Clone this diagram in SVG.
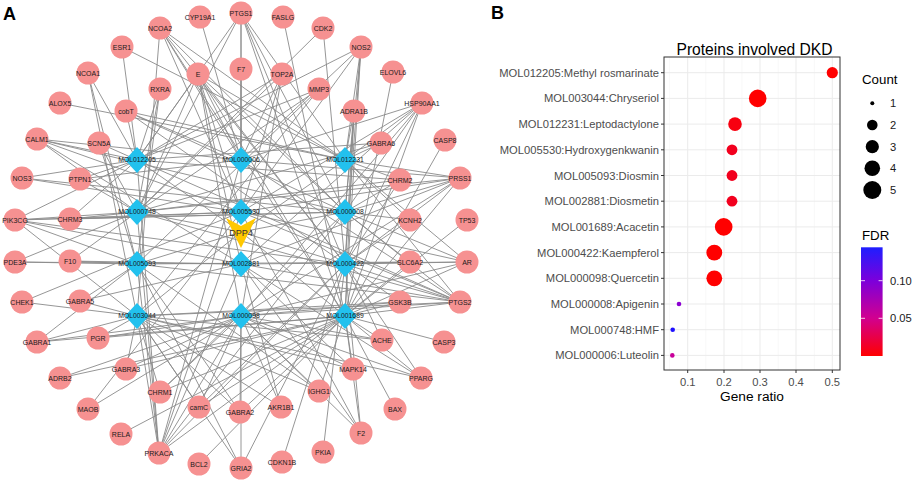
<svg xmlns="http://www.w3.org/2000/svg" width="913" height="481" viewBox="0 0 913 481">
<defs>
<style>
.e{fill:none;stroke:#8a8a8a;stroke-width:0.9}
.t{fill:#F69191}
.tl{font-family:"Liberation Sans",Arial,sans-serif;font-size:7px;fill:#1a1a1a;text-anchor:middle}
.d{fill:#22C1EE}
.dl{font-family:"Liberation Sans",Arial,sans-serif;font-size:6.8px;fill:#1a1a1a;text-anchor:middle}
.pl{font-family:"Liberation Sans",Arial,sans-serif;font-size:18px;font-weight:bold;fill:#000}
.yl{font-family:"Liberation Sans",Arial,sans-serif;font-size:11.2px;fill:#4D4D4D;text-anchor:end}
.xl{font-family:"Liberation Sans",Arial,sans-serif;font-size:11.2px;fill:#4D4D4D;text-anchor:middle}
.lg{font-family:"Liberation Sans",Arial,sans-serif;font-size:11.2px;fill:#1a1a1a}
.lt{font-family:"Liberation Sans",Arial,sans-serif;font-size:13.3px;fill:#000}
.gmaj{stroke:#EBEBEB;stroke-width:1}
.gmin{stroke:#F3F3F3;stroke-width:0.6}
.tk{stroke:#333;stroke-width:1}
</style>
<linearGradient id="fdr" x1="0" y1="0" x2="0" y2="1">
<stop offset="0" stop-color="#1E1EFF"/>
<stop offset="0.3" stop-color="#7A00DC"/>
<stop offset="0.65" stop-color="#D10090"/>
<stop offset="1" stop-color="#FF0000"/>
</linearGradient>
<polygon id="dia" points="0,-13 12,0 0,13 -12,0"/>
</defs>
<rect width="913" height="481" fill="#fff"/>
<text class="pl" x="3" y="20">A</text>
<text class="pl" x="491" y="19">B</text>

<g id="connectors">
<path class="e" d="M200 17L241 160"/>
<path class="e" d="M241 13L137 160M241 13L241 160M241 13L345 160M241 13L137 212M241 13L241 212M241 13L345 212M241 13L345 264M241 13L345 316"/>
<path class="e" d="M283 17L345 316"/>
<path class="e" d="M323 28L137 212M323 28L345 264"/>
<path class="e" d="M361 47L137 160M361 47L241 160M361 47L345 160M361 47L345 212M361 47L345 264M361 47L345 316M361 47L241 212"/>
<path class="e" d="M393 72L345 316"/>
<path class="e" d="M422 103L241 160M422 103L345 160M422 103L241 212M422 103L345 212M422 103L241 264M422 103L345 264M422 103L241 316M422 103L345 316"/>
<path class="e" d="M445 140L345 316"/>
<path class="e" d="M460 178L241 160M460 178L345 160M460 178L137 212M460 178L241 212M460 178L345 212M460 178L241 264M460 178L345 264M460 178L241 316M460 178L345 316"/>
<path class="e" d="M467 220L345 316"/>
<path class="e" d="M467 262L345 160M467 262L241 212M467 262L345 212M467 262L241 264M467 262L345 264M467 262L241 316M467 262L345 316"/>
<path class="e" d="M460 302L137 160M460 302L241 160M460 302L345 160M460 302L137 212M460 302L241 212M460 302L345 212M460 302L137 264M460 302L241 264M460 302L345 264M460 302L137 316M460 302L241 316M460 302L345 316"/>
<path class="e" d="M444 342L345 316"/>
<path class="e" d="M421 378L241 264M421 378L345 264M421 378L137 316M421 378L241 316M421 378L345 316"/>
<path class="e" d="M395 409L345 316"/>
<path class="e" d="M361 433L241 212M361 433L241 264M361 433L345 264M361 433L241 316M361 433L345 316"/>
<path class="e" d="M323 452L345 264"/>
<path class="e" d="M282 462L345 264"/>
<path class="e" d="M241 468L137 264M241 468L345 264M241 468L137 316M241 468L241 316"/>
<path class="e" d="M199 464L345 316"/>
<path class="e" d="M159 453L137 160M159 453L241 160M159 453L137 212M159 453L241 212M159 453L345 212M159 453L137 264M159 453L241 264M159 453L345 264M159 453L137 316M159 453L241 316M159 453L345 316"/>
<path class="e" d="M121 434L345 316"/>
<path class="e" d="M88 409L241 212M88 409L241 316"/>
<path class="e" d="M60 378L241 316M60 378L345 316"/>
<path class="e" d="M37 342L137 264M37 342L137 316M37 342L241 316M37 342L345 316"/>
<path class="e" d="M22 302L137 316M22 302L241 212"/>
<path class="e" d="M15 262L137 212M15 262L137 264M15 262L241 264"/>
<path class="e" d="M15 220L137 160M15 220L137 212M15 220L241 212M15 220L345 212M15 220L137 264M15 220L241 264M15 220L345 264M15 220L137 316"/>
<path class="e" d="M22 178L137 160M22 178L241 212M22 178L345 212"/>
<path class="e" d="M37 139L137 160M37 139L241 160M37 139L137 212M37 139L241 212M37 139L345 212M37 139L241 264"/>
<path class="e" d="M60 103L345 160"/>
<path class="e" d="M88 73L137 160M88 73L137 264M88 73L137 316"/>
<path class="e" d="M122 47L137 160M122 47L345 160"/>
<path class="e" d="M160 28L241 160M160 28L345 160M160 28L241 212M160 28L345 212M160 28L345 264M160 28L345 316M160 28L137 316"/>
<path class="e" d="M198 74L137 160M198 74L241 160M198 74L345 160M198 74L137 212M198 74L241 212M198 74L345 212M198 74L241 264M198 74L345 264M198 74L241 316M198 74L345 316"/>
<path class="e" d="M241 69L241 160"/>
<path class="e" d="M282 74L137 160M282 74L241 160M282 74L137 212M282 74L241 212M282 74L241 316"/>
<path class="e" d="M319 89L137 160M319 89L137 212M319 89L137 264M319 89L137 316"/>
<path class="e" d="M160 89L137 160M160 89L137 212M160 89L137 264"/>
<path class="e" d="M126 111L137 160M126 111L241 160M126 111L345 160M126 111L345 212M126 111L345 264"/>
<path class="e" d="M354 111L345 160M354 111L345 212M354 111L345 264M354 111L345 316"/>
<path class="e" d="M381 143L345 160M381 143L137 160M381 143L137 212"/>
<path class="e" d="M99 143L137 160M99 143L137 212M99 143L137 264"/>
<path class="e" d="M400 180L137 160M400 180L345 160M400 180L137 212M400 180L345 212M400 180L345 264"/>
<path class="e" d="M80 179L137 160M80 179L241 160M80 179L137 212"/>
<path class="e" d="M410 220L345 160M410 220L345 212M410 220L345 264"/>
<path class="e" d="M70 219L137 160M70 219L137 212M70 219L241 212M70 219L345 212"/>
<path class="e" d="M410 262L345 212M410 262L137 264M410 262L345 264M410 262L345 316"/>
<path class="e" d="M70 261L137 212M70 261L137 264M70 261L241 264"/>
<path class="e" d="M400 302L345 264M400 302L137 316M400 302L241 316M400 302L345 316"/>
<path class="e" d="M80 301L137 264M80 301L241 264M80 301L137 316"/>
<path class="e" d="M382 340L345 264M382 340L137 316M382 340L241 316M382 340L345 316"/>
<path class="e" d="M98 338L137 316M98 338L241 316M98 338L345 316"/>
<path class="e" d="M353 369L241 264M353 369L137 316M353 369L241 316M353 369L345 316"/>
<path class="e" d="M126 369L137 316M126 369L241 316M126 369L345 316"/>
<path class="e" d="M319 391L137 264M319 391L137 316M319 391L241 316M319 391L345 316"/>
<path class="e" d="M160 392L345 212M160 392L137 316M160 392L241 316M160 392L345 316"/>
<path class="e" d="M281 407L241 264M281 407L137 316M281 407L241 316"/>
<path class="e" d="M199 407L345 264M199 407L137 316M199 407L241 316M199 407L345 316"/>
<path class="e" d="M240 412L137 264M240 412L137 316M240 412L241 316M240 412L345 316"/>
<path class="e" d="M241 232L137 160M241 232L345 160M241 232L137 212M241 232L345 212M241 232L137 264M241 232L345 264M241 232L137 316M241 232L345 316"/>
</g>

<g id="CYP19A1" transform="translate(200,17)"><circle class="t" r="11.5"/><text class="tl" y="2.5">CYP19A1</text></g>
<g id="PTGS1" transform="translate(241,13)"><circle class="t" r="11.5"/><text class="tl" y="2.5">PTGS1</text></g>
<g id="FASLG" transform="translate(283,17)"><circle class="t" r="11.5"/><text class="tl" y="2.5">FASLG</text></g>
<g id="CDK2" transform="translate(323,28)"><circle class="t" r="11.5"/><text class="tl" y="2.5">CDK2</text></g>
<g id="NOS2" transform="translate(361,47)"><circle class="t" r="11.5"/><text class="tl" y="2.5">NOS2</text></g>
<g id="ELOVL6" transform="translate(393,72)"><circle class="t" r="11.5"/><text class="tl" y="2.5">ELOVL6</text></g>
<g id="HSP90AA1" transform="translate(422,103)"><circle class="t" r="11.5"/><text class="tl" y="2.5">HSP90AA1</text></g>
<g id="CASP8" transform="translate(445,140)"><circle class="t" r="11.5"/><text class="tl" y="2.5">CASP8</text></g>
<g id="PRSS1" transform="translate(460,178)"><circle class="t" r="11.5"/><text class="tl" y="2.5">PRSS1</text></g>
<g id="TP53" transform="translate(467,220)"><circle class="t" r="11.5"/><text class="tl" y="2.5">TP53</text></g>
<g id="AR" transform="translate(467,262)"><circle class="t" r="11.5"/><text class="tl" y="2.5">AR</text></g>
<g id="PTGS2" transform="translate(460,302)"><circle class="t" r="11.5"/><text class="tl" y="2.5">PTGS2</text></g>
<g id="CASP3" transform="translate(444,342)"><circle class="t" r="11.5"/><text class="tl" y="2.5">CASP3</text></g>
<g id="PPARG" transform="translate(421,378)"><circle class="t" r="11.5"/><text class="tl" y="2.5">PPARG</text></g>
<g id="BAX" transform="translate(395,409)"><circle class="t" r="11.5"/><text class="tl" y="2.5">BAX</text></g>
<g id="F2" transform="translate(361,433)"><circle class="t" r="11.5"/><text class="tl" y="2.5">F2</text></g>
<g id="PKIA" transform="translate(323,452)"><circle class="t" r="11.5"/><text class="tl" y="2.5">PKIA</text></g>
<g id="CDKN1B" transform="translate(282,462)"><circle class="t" r="11.5"/><text class="tl" y="2.5">CDKN1B</text></g>
<g id="GRIA2" transform="translate(241,468)"><circle class="t" r="11.5"/><text class="tl" y="2.5">GRIA2</text></g>
<g id="BCL2" transform="translate(199,464)"><circle class="t" r="11.5"/><text class="tl" y="2.5">BCL2</text></g>
<g id="PRKACA" transform="translate(159,453)"><circle class="t" r="11.5"/><text class="tl" y="2.5">PRKACA</text></g>
<g id="RELA" transform="translate(121,434)"><circle class="t" r="11.5"/><text class="tl" y="2.5">RELA</text></g>
<g id="MAOB" transform="translate(88,409)"><circle class="t" r="11.5"/><text class="tl" y="2.5">MAOB</text></g>
<g id="ADRB2" transform="translate(60,378)"><circle class="t" r="11.5"/><text class="tl" y="2.5">ADRB2</text></g>
<g id="GABRA1" transform="translate(37,342)"><circle class="t" r="11.5"/><text class="tl" y="2.5">GABRA1</text></g>
<g id="CHEK1" transform="translate(22,302)"><circle class="t" r="11.5"/><text class="tl" y="2.5">CHEK1</text></g>
<g id="PDE3A" transform="translate(15,262)"><circle class="t" r="11.5"/><text class="tl" y="2.5">PDE3A</text></g>
<g id="PIK3CG" transform="translate(15,220)"><circle class="t" r="11.5"/><text class="tl" y="2.5">PIK3CG</text></g>
<g id="NOS3" transform="translate(22,178)"><circle class="t" r="11.5"/><text class="tl" y="2.5">NOS3</text></g>
<g id="CALM1" transform="translate(37,139)"><circle class="t" r="11.5"/><text class="tl" y="2.5">CALM1</text></g>
<g id="ALOX5" transform="translate(60,103)"><circle class="t" r="11.5"/><text class="tl" y="2.5">ALOX5</text></g>
<g id="NCOA1" transform="translate(88,73)"><circle class="t" r="11.5"/><text class="tl" y="2.5">NCOA1</text></g>
<g id="ESR1" transform="translate(122,47)"><circle class="t" r="11.5"/><text class="tl" y="2.5">ESR1</text></g>
<g id="NCOA2" transform="translate(160,28)"><circle class="t" r="11.5"/><text class="tl" y="2.5">NCOA2</text></g>

<g id="E" transform="translate(198,74)"><circle class="t" r="11.5"/><text class="tl" y="2.5">E</text></g>
<g id="F7" transform="translate(241,69)"><circle class="t" r="11.5"/><text class="tl" y="2.5">F7</text></g>
<g id="TOP2A" transform="translate(282,74)"><circle class="t" r="11.5"/><text class="tl" y="2.5">TOP2A</text></g>
<g id="MMP3" transform="translate(319,89)"><circle class="t" r="11.5"/><text class="tl" y="2.5">MMP3</text></g>
<g id="RXRA" transform="translate(160,89)"><circle class="t" r="11.5"/><text class="tl" y="2.5">RXRA</text></g>
<g id="cobT" transform="translate(126,111)"><circle class="t" r="11.5"/><text class="tl" y="2.5">cobT</text></g>
<g id="ADRA1B" transform="translate(354,111)"><circle class="t" r="11.5"/><text class="tl" y="2.5">ADRA1B</text></g>
<g id="GABRA6" transform="translate(381,143)"><circle class="t" r="11.5"/><text class="tl" y="2.5">GABRA6</text></g>
<g id="SCN5A" transform="translate(99,143)"><circle class="t" r="11.5"/><text class="tl" y="2.5">SCN5A</text></g>
<g id="CHRM2" transform="translate(400,180)"><circle class="t" r="11.5"/><text class="tl" y="2.5">CHRM2</text></g>
<g id="PTPN1" transform="translate(80,179)"><circle class="t" r="11.5"/><text class="tl" y="2.5">PTPN1</text></g>
<g id="KCNH2" transform="translate(410,220)"><circle class="t" r="11.5"/><text class="tl" y="2.5">KCNH2</text></g>
<g id="CHRM3" transform="translate(70,219)"><circle class="t" r="11.5"/><text class="tl" y="2.5">CHRM3</text></g>
<g id="SLC6A2" transform="translate(410,262)"><circle class="t" r="11.5"/><text class="tl" y="2.5">SLC6A2</text></g>
<g id="F10" transform="translate(70,261)"><circle class="t" r="11.5"/><text class="tl" y="2.5">F10</text></g>
<g id="GSK3B" transform="translate(400,302)"><circle class="t" r="11.5"/><text class="tl" y="2.5">GSK3B</text></g>
<g id="GABRA5" transform="translate(80,301)"><circle class="t" r="11.5"/><text class="tl" y="2.5">GABRA5</text></g>
<g id="ACHE" transform="translate(382,340)"><circle class="t" r="11.5"/><text class="tl" y="2.5">ACHE</text></g>
<g id="PGR" transform="translate(98,338)"><circle class="t" r="11.5"/><text class="tl" y="2.5">PGR</text></g>
<g id="MAPK14" transform="translate(353,369)"><circle class="t" r="11.5"/><text class="tl" y="2.5">MAPK14</text></g>
<g id="GABRA3" transform="translate(126,369)"><circle class="t" r="11.5"/><text class="tl" y="2.5">GABRA3</text></g>
<g id="IGHG1" transform="translate(319,391)"><circle class="t" r="11.5"/><text class="tl" y="2.5">IGHG1</text></g>
<g id="CHRM1" transform="translate(160,392)"><circle class="t" r="11.5"/><text class="tl" y="2.5">CHRM1</text></g>
<g id="AKR1B1" transform="translate(281,407)"><circle class="t" r="11.5"/><text class="tl" y="2.5">AKR1B1</text></g>
<g id="camC" transform="translate(199,407)"><circle class="t" r="11.5"/><text class="tl" y="2.5">camC</text></g>
<g id="GABRA2" transform="translate(240,412)"><circle class="t" r="11.5"/><text class="tl" y="2.5">GABRA2</text></g>

<g id="MOL012205" transform="translate(137,160)"><use href="#dia" class="d"/><text class="dl" y="2.4">MOL012205</text></g>
<g id="MOL000006" transform="translate(241,160)"><use href="#dia" class="d"/><text class="dl" y="2.4">MOL000006</text></g>
<g id="MOL012231" transform="translate(345,160)"><use href="#dia" class="d"/><text class="dl" y="2.4">MOL012231</text></g>
<g id="MOL000748" transform="translate(137,212)"><use href="#dia" class="d"/><text class="dl" y="2.4">MOL000748</text></g>
<g id="MOL005530" transform="translate(241,212)"><use href="#dia" class="d"/><text class="dl" y="2.4">MOL005530</text></g>
<g id="MOL000008" transform="translate(345,212)"><use href="#dia" class="d"/><text class="dl" y="2.4">MOL000008</text></g>
<g id="MOL005093" transform="translate(137,264)"><use href="#dia" class="d"/><text class="dl" y="2.4">MOL005093</text></g>
<g id="MOL002881" transform="translate(241,264)"><use href="#dia" class="d"/><text class="dl" y="2.4">MOL002881</text></g>
<g id="MOL000422" transform="translate(345,264)"><use href="#dia" class="d"/><text class="dl" y="2.4">MOL000422</text></g>
<g id="MOL003044" transform="translate(137,316)"><use href="#dia" class="d"/><text class="dl" y="2.4">MOL003044</text></g>
<g id="MOL000098" transform="translate(241,316)"><use href="#dia" class="d"/><text class="dl" y="2.4">MOL000098</text></g>
<g id="MOL001689" transform="translate(345,316)"><use href="#dia" class="d"/><text class="dl" y="2.4">MOL001689</text></g>
<g id="DPP4" transform="translate(241,233)"><polygon points="-15,-15 0,-7 15,-15 0,15" fill="#FFC800"/><text x="0" y="3.2" font-family="Liberation Sans, Arial, sans-serif" font-size="9" fill="#333" text-anchor="middle">DPP4</text></g>

<g id="dotplot">
<text x="754.5" y="55" font-family="Liberation Sans, Arial, sans-serif" font-size="15.6" text-anchor="middle" fill="#000">Proteins involved DKD</text>
<rect x="664" y="57" width="176" height="313" fill="#fff"/>
<g class="gmin">
<line x1="669.6" y1="57" x2="669.6" y2="370"/><line x1="705.8" y1="57" x2="705.8" y2="370"/><line x1="742" y1="57" x2="742" y2="370"/><line x1="778.2" y1="57" x2="778.2" y2="370"/><line x1="814.4" y1="57" x2="814.4" y2="370"/>
</g>
<g class="gmaj">
<line x1="687.7" y1="57" x2="687.7" y2="370"/><line x1="724" y1="57" x2="724" y2="370"/><line x1="760" y1="57" x2="760" y2="370"/><line x1="796" y1="57" x2="796" y2="370"/><line x1="832.3" y1="57" x2="832.3" y2="370"/>
<line x1="664" y1="72.7" x2="840" y2="72.7"/><line x1="664" y1="98.4" x2="840" y2="98.4"/><line x1="664" y1="124.1" x2="840" y2="124.1"/><line x1="664" y1="149.8" x2="840" y2="149.8"/><line x1="664" y1="175.5" x2="840" y2="175.5"/><line x1="664" y1="201.2" x2="840" y2="201.2"/><line x1="664" y1="226.9" x2="840" y2="226.9"/><line x1="664" y1="252.6" x2="840" y2="252.6"/><line x1="664" y1="278.3" x2="840" y2="278.3"/><line x1="664" y1="304" x2="840" y2="304"/><line x1="664" y1="329.7" x2="840" y2="329.7"/><line x1="664" y1="355.4" x2="840" y2="355.4"/>
</g>
<circle cx="832.3" cy="72.7" r="5.6" fill="#FF0000"/>
<circle cx="757.7" cy="98.4" r="8.8" fill="#FF0000"/>
<circle cx="735" cy="124.1" r="6.8" fill="#F80010"/>
<circle cx="732" cy="149.8" r="5.4" fill="#F2001E"/>
<circle cx="732" cy="175.5" r="5.4" fill="#F2001E"/>
<circle cx="732" cy="201.2" r="5.4" fill="#F2001E"/>
<circle cx="723.7" cy="226.9" r="8.8" fill="#FF0000"/>
<circle cx="714.3" cy="252.6" r="7.9" fill="#FF0000"/>
<circle cx="714.3" cy="278.3" r="7.9" fill="#FF0000"/>
<circle cx="679" cy="304" r="2.3" fill="#8C00D2"/>
<circle cx="672.7" cy="329.7" r="2.3" fill="#1E10FF"/>
<circle cx="672.3" cy="355.4" r="2.3" fill="#C8009A"/>
<rect x="664" y="57" width="176" height="313" fill="none" stroke="#333" stroke-width="1"/>
<g class="tk">
<line x1="661" y1="72.7" x2="664" y2="72.7"/><line x1="661" y1="98.4" x2="664" y2="98.4"/><line x1="661" y1="124.1" x2="664" y2="124.1"/><line x1="661" y1="149.8" x2="664" y2="149.8"/><line x1="661" y1="175.5" x2="664" y2="175.5"/><line x1="661" y1="201.2" x2="664" y2="201.2"/><line x1="661" y1="226.9" x2="664" y2="226.9"/><line x1="661" y1="252.6" x2="664" y2="252.6"/><line x1="661" y1="278.3" x2="664" y2="278.3"/><line x1="661" y1="304" x2="664" y2="304"/><line x1="661" y1="329.7" x2="664" y2="329.7"/><line x1="661" y1="355.4" x2="664" y2="355.4"/>
<line x1="687.7" y1="370" x2="687.7" y2="373"/><line x1="724" y1="370" x2="724" y2="373"/><line x1="760" y1="370" x2="760" y2="373"/><line x1="796" y1="370" x2="796" y2="373"/><line x1="832.3" y1="370" x2="832.3" y2="373"/>
</g>
<text class="yl" x="659" y="76.7">MOL012205:Methyl rosmarinate</text>
<text class="yl" x="659" y="102.4">MOL003044:Chryseriol</text>
<text class="yl" x="659" y="128.1">MOL012231:Leptodactylone</text>
<text class="yl" x="659" y="153.8">MOL005530:Hydroxygenkwanin</text>
<text class="yl" x="659" y="179.5">MOL005093:Diosmin</text>
<text class="yl" x="659" y="205.2">MOL002881:Diosmetin</text>
<text class="yl" x="659" y="230.9">MOL001689:Acacetin</text>
<text class="yl" x="659" y="256.6">MOL000422:Kaempferol</text>
<text class="yl" x="659" y="282.3">MOL000098:Quercetin</text>
<text class="yl" x="659" y="308">MOL000008:Apigenin</text>
<text class="yl" x="659" y="333.7">MOL000748:HMF</text>
<text class="yl" x="659" y="359.4">MOL000006:Luteolin</text>
<text class="xl" x="687.7" y="386">0.1</text>
<text class="xl" x="724" y="386">0.2</text>
<text class="xl" x="760" y="386">0.3</text>
<text class="xl" x="796" y="386">0.4</text>
<text class="xl" x="832.3" y="386">0.5</text>
<text x="752" y="401" font-family="Liberation Sans, Arial, sans-serif" font-size="13.7" text-anchor="middle" fill="#000">Gene ratio</text>
</g>

<g id="legend-count">
<text class="lt" x="862" y="84">Count</text>
<circle cx="872.3" cy="103.3" r="2" fill="#000"/>
<circle cx="872.3" cy="125" r="5.3" fill="#000"/>
<circle cx="872.3" cy="146.7" r="6.6" fill="#000"/>
<circle cx="872.3" cy="168.3" r="7.8" fill="#000"/>
<circle cx="872.3" cy="190" r="9" fill="#000"/>
<text class="lg" x="890" y="107.3">1</text>
<text class="lg" x="890" y="129">2</text>
<text class="lg" x="890" y="150.7">3</text>
<text class="lg" x="890" y="172.3">4</text>
<text class="lg" x="890" y="194">5</text>
</g>
<g id="legend-fdr">
<text class="lt" x="862" y="240">FDR</text>
<rect x="861" y="247.3" width="21.6" height="108.7" fill="url(#fdr)"/>
<g stroke="#fff" stroke-width="0.8">
<line x1="861" y1="280.7" x2="865" y2="280.7"/><line x1="878.6" y1="280.7" x2="882.6" y2="280.7"/>
<line x1="861" y1="318.3" x2="865" y2="318.3"/><line x1="878.6" y1="318.3" x2="882.6" y2="318.3"/>
</g>
<text class="lg" x="890" y="284.7">0.10</text>
<text class="lg" x="890" y="322.3">0.05</text>
</g>
</svg>
